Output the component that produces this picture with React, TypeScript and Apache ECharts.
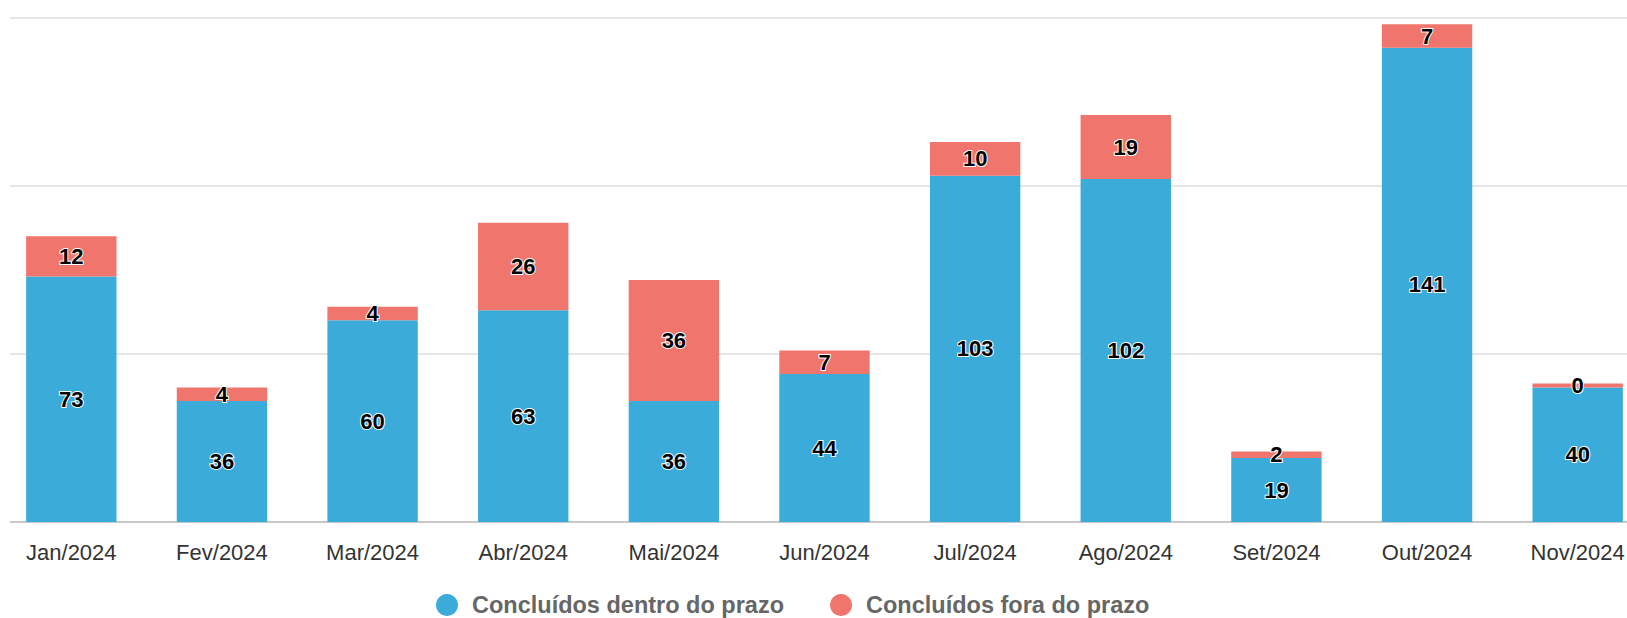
import React, { useEffect, useRef } from "react";
import * as echarts from "echarts";

const categories = ["Jan/2024", "Fev/2024", "Mar/2024", "Abr/2024", "Mai/2024", "Jun/2024", "Jul/2024", "Ago/2024", "Set/2024", "Out/2024", "Nov/2024"];
const dentroPrazo = [73, 36, 60, 63, 36, 44, 103, 102, 19, 141, 40];
const foraPrazo = [12, 4, 4, 26, 36, 7, 10, 19, 2, 7, 0];
const seriesNames = ["Concluídos dentro do prazo", "Concluídos fora do prazo"];

const FONT = "'Liberation Sans', Arial, sans-serif";
// chart canvas is wider than the window and shifted left so the last bar is cut like the reference
const SHIFT = 4;
const CHART_W = 1657;

const labelStyle = {
  show: true,
  position: "inside" as const,
  color: "#000",
  fontSize: 22,
  fontWeight: "bold" as const,
  fontFamily: FONT,
  textBorderColor: "#fff",
  textBorderWidth: 2,
};

export default function App() {
  const ref = useRef<HTMLDivElement>(null);
  useEffect(() => {
    if (!ref.current) return;
    const chart = echarts.init(ref.current, null, { renderer: "svg" });
    chart.setOption({
      animation: false,
      backgroundColor: "#fff",
      textStyle: { fontFamily: FONT },
      grid: { left: 0, right: 0, top: 17.6, bottom: 96, containLabel: false },
      legend: {
        data: seriesNames,
        left: 431 + SHIFT,
        top: 588,
        icon: "circle",
        itemWidth: 40,
        itemHeight: 22,
        itemGap: 46,
        textStyle: { fontSize: 23.5, fontWeight: "bold", color: "#666", fontFamily: FONT },
      },
      xAxis: {
        type: "category",
        data: categories,
        axisTick: { show: false },
        axisLine: { show: true, lineStyle: { color: "#c8c8c8", width: 2 } },
        axisLabel: { color: "#333", fontSize: 22, margin: 19, fontFamily: FONT, interval: 0 },
      },
      yAxis: {
        type: "value",
        min: 0,
        max: 150,
        interval: 50,
        axisLabel: { show: false },
        axisLine: { show: false },
        axisTick: { show: false },
        splitLine: { show: true, lineStyle: { color: "#e6e6e6", width: 2 } },
      },
      graphic: [
        {
          type: "rect",
          z: 100,
          shape: { x: 0, y: 0, width: 10 + SHIFT, height: 530 },
          style: { fill: "#fff" },
        },
      ],
      series: [
        {
          name: seriesNames[0],
          type: "bar",
          stack: "total",
          data: dentroPrazo,
          barWidth: "60%",
          itemStyle: { color: "#3BACD9" },
          label: labelStyle,
        },
        {
          name: seriesNames[1],
          type: "bar",
          stack: "total",
          data: foraPrazo,
          barWidth: "60%",
          barMinHeight: 4,
          itemStyle: { color: "#F0756C" },
          label: labelStyle,
        },
      ],
    });
    return () => chart.dispose();
  }, []);
  return (
    <div style={{ position: "fixed", left: 0, top: 0, width: 1627, height: 618, overflow: "hidden" }}>
      <div
        ref={ref}
        style={{ position: "absolute", left: -SHIFT, top: 0, width: CHART_W, height: 618 }}
      />
    </div>
  );
}
